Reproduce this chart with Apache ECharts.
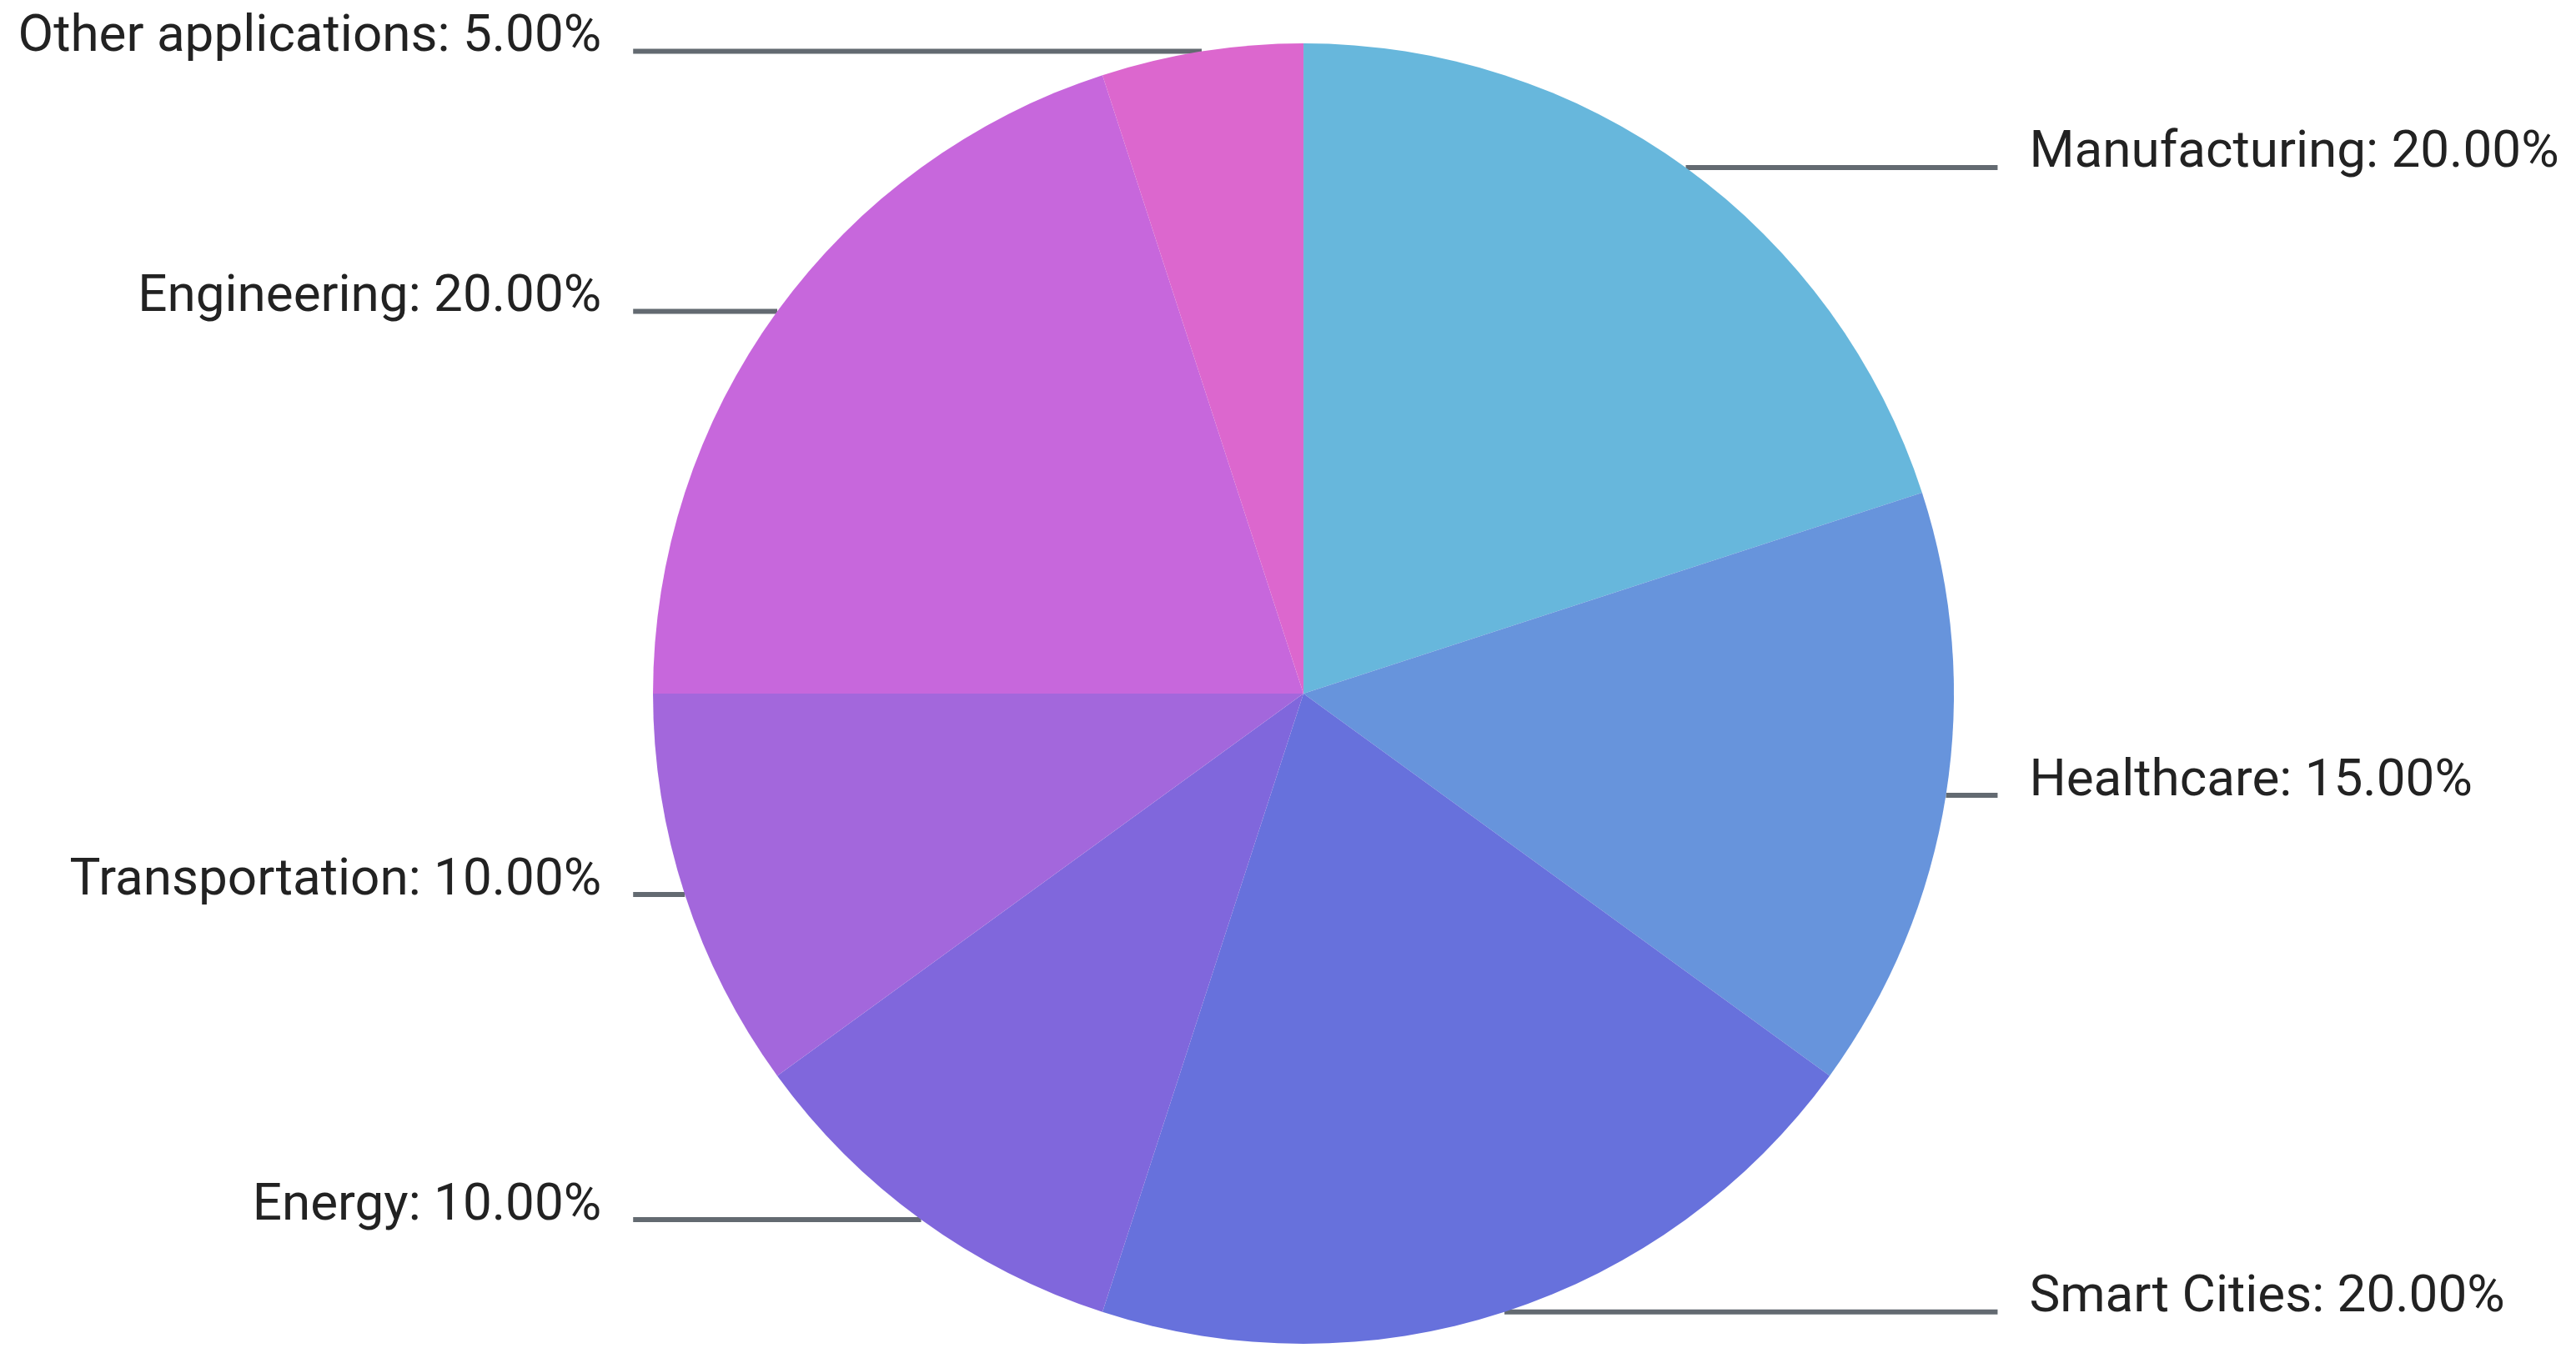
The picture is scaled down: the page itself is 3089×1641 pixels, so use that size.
<!DOCTYPE html>
<html>
<head>
<meta charset="utf-8">
<script src="https://cdn.jsdelivr.net/npm/echarts@6/dist/echarts.min.js"></script>
<style>
html,body{margin:0;padding:0;background:#ffffff;}
#chart{width:3089px;height:1641px;}
</style>
</head>
<body>
<div id="chart"></div>
<script>
const categories = ['Manufacturing', 'Healthcare', 'Smart Cities', 'Energy', 'Transportation', 'Engineering', 'Other applications'];
const shares = [20, 15, 20, 10, 10, 20, 5];
const sliceColors = ['#67b7dc', '#6794dc', '#6771dc', '#8067dc', '#a367dc', '#c767dc', '#dc67ce'];

const chart = echarts.init(document.getElementById('chart'), null, {renderer: 'canvas'});
const option = {
  backgroundColor: '#ffffff',
  animation: false,
  color: sliceColors,
  series: [{
    type: 'pie',
    center: ['50.6%', '50.7%'],
    radius: 780,
    startAngle: 90,
    clockwise: true,
    avoidLabelOverlap: true,
    emphasis: {disabled: true},
    itemStyle: {borderWidth: 0},
    label: {
      show: true,
      formatter: p => p.name + ': ' + p.value.toFixed(2) + '%',
      fontSize: 62,
      fontFamily: 'Roboto',
      color: '#222222',
      alignTo: 'labelLine',
      edgeDistance: 16,
      distanceToLabelLine: 38,
      overflow: 'none'
    },
    labelLine: {
      show: true,
      length: 0,
      length2: 62,
      lineStyle: {color: '#636a71', width: 6}
    },
    labelLayout: () => ({dy: -16}),
    data: categories.map((c, i) => ({name: c, value: shares[i]}))
  }]
};
chart.setOption(option);
</script>
</body>
</html>
